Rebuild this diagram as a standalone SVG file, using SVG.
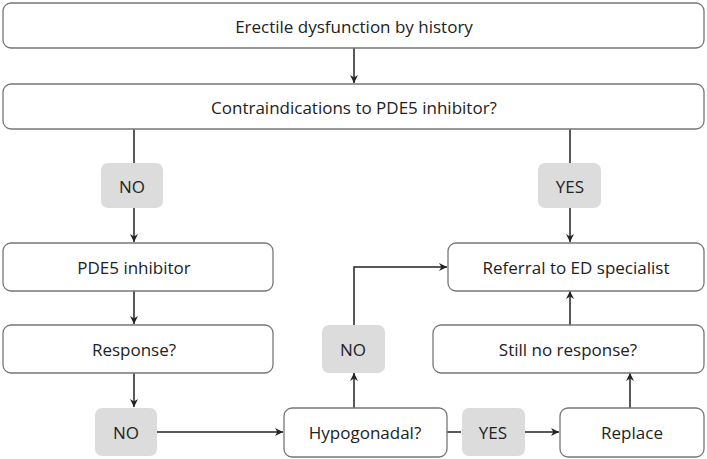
<svg xmlns="http://www.w3.org/2000/svg" width="707" height="459" viewBox="0 0 707 459">
<style>
.b{fill:#fff;stroke:#777;stroke-width:1.3}
.g{fill:#dcdcdc;stroke:none}
text{font-family:"Open Sans","Liberation Sans",sans-serif;font-size:17px;fill:#222;text-anchor:middle;dominant-baseline:central}
.c{stroke:#222;stroke-width:1.5;fill:none}
</style>
<defs><marker id="a" viewBox="0 0 10 10" refX="10" refY="5" markerWidth="8" markerHeight="8" markerUnits="userSpaceOnUse" orient="auto"><path d="M0,0L10,5L0,10L3,5Z" fill="#222"/></marker></defs>
<g id="connectors" class="c">
<path d="M354,48V83" marker-end="url(#a)"/>
<path d="M134,129V163"/>
<path d="M134,208V242" marker-end="url(#a)"/>
<path d="M570,129V163"/>
<path d="M570,208V242" marker-end="url(#a)"/>
<path d="M134,291V324" marker-end="url(#a)"/>
<path d="M134,373V407" marker-end="url(#a)"/>
<path d="M157,432H283" marker-end="url(#a)"/>
<path d="M354,408V373" marker-end="url(#a)"/>
<path d="M354,325V267H447" marker-end="url(#a)"/>
<path d="M447,432H461"/>
<path d="M525,432H559" marker-end="url(#a)"/>
<path d="M630,408V373" marker-end="url(#a)"/>
<path d="M570,325V291" marker-end="url(#a)"/>
</g>
<g id="n1"><rect class="b" x="3" y="3" width="701" height="45" rx="8"/><text x="354" y="26">Erectile dysfunction by history</text></g>
<g id="n2"><rect class="b" x="3" y="84" width="701" height="45" rx="8"/><text x="354" y="107">Contraindications to PDE5 inhibitor?</text></g>
<g id="l1"><rect class="g" x="101" y="163" width="62" height="45" rx="7"/><text x="132" y="186">NO</text></g>
<g id="l2"><rect class="g" x="538" y="163" width="63" height="45" rx="7"/><text x="570" y="186">YES</text></g>
<g id="n3"><rect class="b" x="3" y="243" width="270" height="48" rx="8"/><text x="134" y="267">PDE5 inhibitor</text></g>
<g id="n4"><rect class="b" x="3" y="325" width="270" height="48" rx="8"/><text x="134" y="349">Response?</text></g>
<g id="n5"><rect class="b" x="448" y="243" width="256" height="48" rx="8"/><text x="576" y="267">Referral to ED specialist</text></g>
<g id="n6"><rect class="b" x="433" y="325" width="271" height="48" rx="8"/><text x="568" y="349">Still no response?</text></g>
<g id="l3"><rect class="g" x="322" y="325" width="63" height="48" rx="7"/><text x="353" y="349">NO</text></g>
<g id="l4"><rect class="g" x="95" y="408" width="62" height="48" rx="7"/><text x="126" y="432">NO</text></g>
<g id="n7"><rect class="b" x="284" y="408" width="163" height="49" rx="8"/><text x="365" y="432">Hypogonadal?</text></g>
<g id="l5"><rect class="g" x="462" y="408" width="63" height="48" rx="7"/><text x="493" y="432">YES</text></g>
<g id="n8"><rect class="b" x="560" y="408" width="144" height="49" rx="8"/><text x="632" y="432">Replace</text></g>
</svg>
